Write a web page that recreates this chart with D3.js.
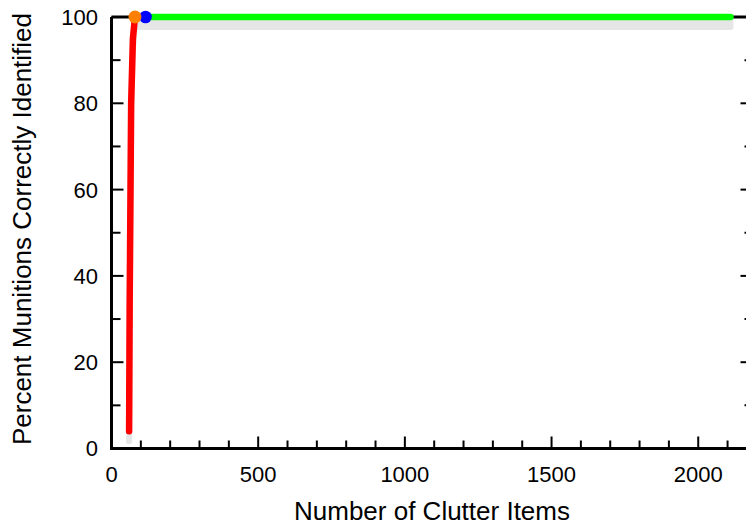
<!DOCTYPE html>
<html><head><meta charset="utf-8">
<script src="https://cdn.jsdelivr.net/npm/d3@7"></script>
<style>html,body{margin:0;padding:0;background:#fff;}svg{display:block;font-family:"Liberation Sans",Arial,sans-serif;}</style>
</head><body><svg id="c" width="746" height="527"></svg>
<script>
// Data
const redX = [60, 62, 67, 73, 80];
const redY = [4, 34, 80, 95, 100];
const greenX = [116, 2110];
const greenY = [100, 100];
const bandX = [60, 62, 67, 73, 80, 116, 2110];
const bandLow = [1.7, 31.7, 77.7, 92.7, 97.7, 97.7, 97.7];
const bandHigh = [4, 34, 80, 95, 100, 100, 100];
const orangePt = [80, 100];
const bluePt = [116, 100];
const xMajorTicks = [0, 500, 1000, 1500, 2000];
const xMinorTicks = [100,200,300,400,600,700,800,900,1100,1200,1300,1400,1600,1700,1800,1900,2100];
const yMajorTicks = [0, 20, 40, 60, 80, 100];
const yMinorTicks = [10, 30, 50, 70, 90];
const xTitle = "Number of Clutter Items";
const yTitle = "Percent Munitions Correctly Identified";

const svg = d3.select("#c");
const x = d3.scaleLinear().domain([0, 2185]).range([111.5, 752.5]);
const y = d3.scaleLinear().domain([0, 100]).range([448.5, 17]);
const X0 = x(0), X1 = x(2185), Y0 = y(0), Y1 = y(100);

// gray band
const band = bandX.map((v,i)=>({x:v, lo:bandLow[i], hi:bandHigh[i]}));
svg.append("path").datum(band)
  .attr("d", d3.area().x(d=>x(d.x)).y0(d=>y(d.lo)).y1(d=>y(d.hi)))
  .attr("fill", "#e6e6e6").attr("stroke", "#e6e6e6").attr("stroke-width", 6)
  .attr("stroke-linejoin", "round");

// frame
const g = svg.append("g").attr("stroke", "#000").attr("fill", "none");
g.append("path").attr("d", `M${X0},${Y1}V${Y0}H${X1}`).attr("stroke-width", 3);
g.append("path").attr("d", `M${X0},${Y1}H${X1}`).attr("stroke-width", 3);

// ticks
const tk = svg.append("g").attr("stroke", "#000").attr("stroke-width", 2);
xMajorTicks.forEach(t=>tk.append("line").attr("x1",x(t)).attr("x2",x(t)).attr("y1",Y0).attr("y2",Y0-12));
xMinorTicks.forEach(t=>tk.append("line").attr("x1",x(t)).attr("x2",x(t)).attr("y1",Y0).attr("y2",Y0-8));
yMajorTicks.forEach(t=>{
  tk.append("line").attr("x1",X0).attr("x2",X0+12).attr("y1",y(t)).attr("y2",y(t));
  tk.append("line").attr("x1",X1).attr("x2",X1-12).attr("y1",y(t)).attr("y2",y(t));
});
yMinorTicks.forEach(t=>{
  tk.append("line").attr("x1",X0).attr("x2",X0+9).attr("y1",y(t)).attr("y2",y(t));
  tk.append("line").attr("x1",X1).attr("x2",X1-8).attr("y1",y(t)).attr("y2",y(t));
});

// tick labels
svg.append("g").selectAll("text").data(xMajorTicks).join("text")
  .attr("x", d=>x(d)).attr("y", 482).attr("text-anchor","middle")
  .attr("font-size", 22).attr("fill","#000").text(d=>d);
svg.append("g").selectAll("text").data(yMajorTicks).join("text")
  .attr("x", 98).attr("y", d=>y(d)).attr("dy","0.36em").attr("text-anchor","end")
  .attr("font-size", 22).attr("fill","#000").text(d=>d);

// titles
svg.append("text").attr("x", 432).attr("y", 520).attr("text-anchor","middle")
  .attr("font-size", 26).attr("fill","#000").text(xTitle);
svg.append("text").attr("transform", "translate(31,229) rotate(-90)").attr("text-anchor","middle")
  .attr("font-size", 26).attr("fill","#000").text(yTitle);

// lines
const line = d3.line().x(d=>x(d[0])).y(d=>y(d[1]));
svg.append("path").datum(redX.map((v,i)=>[v,redY[i]])).attr("d", line)
  .attr("fill","none").attr("stroke","#ff0000").attr("stroke-width",6.5)
  .attr("stroke-linecap","round").attr("stroke-linejoin","round");
svg.append("path").datum(greenX.map((v,i)=>[v,greenY[i]])).attr("d", line)
  .attr("fill","none").attr("stroke","#00ff00").attr("stroke-width",6.5)
  .attr("stroke-linecap","round");

// dots
svg.append("circle").attr("cx", x(bluePt[0])).attr("cy", y(bluePt[1])).attr("r", 6.3).attr("fill", "#0000ff");
svg.append("circle").attr("cx", x(orangePt[0])).attr("cy", y(orangePt[1])).attr("r", 6.5).attr("fill", "#ff8000");
</script></body></html>
